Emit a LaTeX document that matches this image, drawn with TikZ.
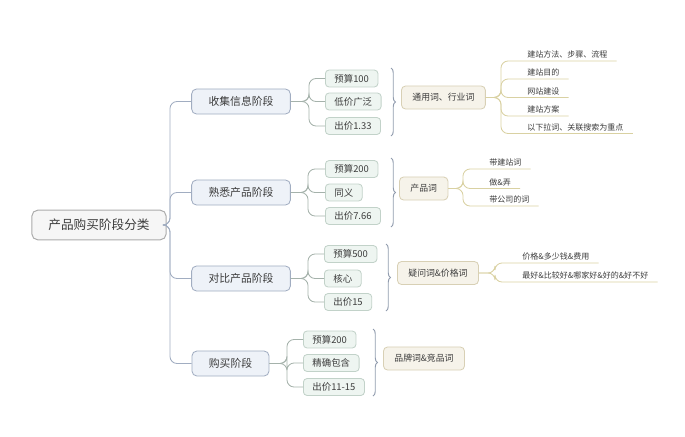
\documentclass[tikz,border=0pt]{standalone}
\usepackage{fontspec}
\setmainfont{Noto Sans CJK SC}
\usetikzlibrary{decorations.pathreplacing}

\definecolor{rootfill}{HTML}{F6F6F6}
\definecolor{rootline}{HTML}{ABABAB}
\definecolor{stagefill}{HTML}{EEF2F8}
\definecolor{stageline}{HTML}{A1ADC1}
\definecolor{itemfill}{HTML}{EEF5F1}
\definecolor{itemline}{HTML}{C2D2C9}
\definecolor{sumfill}{HTML}{F6F3EA}
\definecolor{sumline}{HTML}{D8D0B5}
\definecolor{leafline}{HTML}{D9D1A2}
\definecolor{txt}{HTML}{3C3C3C}

\begin{document}
\begin{tikzpicture}[x=0.025cm, y=-0.025cm, text=txt,
    rootbox/.style={draw=rootline, fill=rootfill, rounded corners=4pt, line width=0.7pt,
        inner xsep=11.7pt, minimum height=21pt, font=\fontsize{9}{10}\selectfont},
    stagebox/.style={draw=stageline, fill=stagefill, rounded corners=3.5pt, line width=0.6pt,
        inner xsep=12pt, minimum height=17.8pt, font=\fontsize{7.7}{9}\selectfont},
    itembox/.style={draw=itemline, fill=itemfill, rounded corners=2.5pt, line width=0.6pt, anchor=west,
        inner xsep=6.4pt, inner ysep=1pt, minimum height=12pt, font=\fontsize{6.7}{8}\selectfont},
    sumbox/.style={draw=sumline, fill=sumfill, rounded corners=3pt, line width=0.6pt, anchor=west,
        inner xsep=7.8pt, minimum height=16.4pt, font=\fontsize{6.3}{7.5}\selectfont},
    leaf/.style={anchor=south west, inner xsep=6.4pt, inner ysep=1.6pt, font=\fontsize{5.7}{7}\selectfont},
    trunkln/.style={draw=stageline, line width=0.6pt, rounded corners=5pt},
    itemln/.style={draw=itemline!85!black, line width=0.6pt, rounded corners=5pt},
    brc/.style={draw=stageline!90!black, line width=0.7pt, decorate, decoration={brace, amplitude=3.2pt}},
    leafln/.style={draw=leafline, line width=0.6pt, rounded corners=5pt}]
    \useasboundingbox (0,0) rectangle (685,436);

    % Root and stages
    \node[rootbox] (root) at (99,225) {产品购买阶段分类};
    \node[stagebox] (collect) at (241,101.5) {收集信息阶段};
    \node[stagebox] (know) at (241,192.5) {熟悉产品阶段};
    \node[stagebox] (compare) at (241,278.5) {对比产品阶段};
    \node[stagebox] (buy) at (230.5,363.5) {购买阶段};

    \coordinate (t) at (170,225);
    \draw[trunkln] (root.east) -- (t) |- (collect.west);
    \draw[trunkln] (root.east) -- (t) |- (know.west);
    \draw[trunkln] (root.east) -- (t) |- (compare.west);
    \draw[trunkln] (root.east) -- (t) |- (buy.west);

    % Stage 1
    \node[itembox] (c1) at (325,78.5) {预算100};
    \node[itembox] (c2) at (325,101.5) {低价广泛};
    \node[itembox] (c3) at (325,126) {出价1.33};
    \coordinate (jc) at (309,101.5);
    \foreach \i in {c1,c2,c3} \draw[itemln] (collect.east) -- (jc) |- (\i.west);
    \coordinate (bc1) at (391,68);
    \coordinate (bc2) at (391,136);
    \draw[brc] (bc1) -- (bc2);
    \node[sumbox] (general) at (401,97.5) {通用词、行业词};

    \node[leaf] (g1) at (518,61) {建站方法、步骤、流程};
    \node[leaf] (g2) at (518,79) {建站目的};
    \node[leaf] (g3) at (518,97.5) {网站建设};
    \node[leaf] (g4) at (518,116) {建站方案};
    \node[leaf] (g5) at (518,133.5) {以下拉词、关联搜索为重点};
    \coordinate (jg) at (501,97.5);
    \foreach \i in {g1,g2,g3,g4,g5} \draw[leafln] (general.east) -- (jg) |- (\i.south west) -- (\i.south east);

    % Stage 2
    \node[itembox] (k1) at (325,169) {预算200};
    \node[itembox] (k2) at (325,192.5) {同义};
    \node[itembox] (k3) at (325,216) {出价7.66};
    \coordinate (jk) at (308,192.5);
    \foreach \i in {k1,k2,k3} \draw[itemln] (know.east) -- (jk) |- (\i.west);
    \coordinate (bk1) at (391,158);
    \coordinate (bk2) at (391,227);
    \draw[brc] (bk1) -- (bk2);
    \node[sumbox] (product) at (399,188.5) {产品词};

    \node[leaf] (p1) at (480,169) {带建站词};
    \node[leaf] (p2) at (480,188.5) {做\&弄};
    \node[leaf] (p3) at (480,206) {带公司的词};
    \coordinate (jp) at (463,188.5);
    \foreach \i in {p1,p2,p3} \draw[leafln] (product.east) -- (jp) |- (\i.south west) -- (\i.south east);

    % Stage 3
    \node[itembox] (d1) at (324,254) {预算500};
    \node[itembox] (d2) at (324,278.5) {核心};
    \node[itembox] (d3) at (324,302) {出价15};
    \coordinate (jd) at (308,278.5);
    \foreach \i in {d1,d2,d3} \draw[itemln] (compare.east) -- (jd) |- (\i.west);
    \coordinate (bd1) at (386,244);
    \coordinate (bd2) at (386,311);
    \draw[brc] (bd1) -- (bd2);
    \node[sumbox] (query) at (397,273) {疑问词\&价格词};

    \node[leaf] (q1) at (513,263) {价格\&多少钱\&费用};
    \node[leaf] (q2) at (513,282) {最好\&比较好\&哪家好\&好的\&好不好};
    \coordinate (jq) at (495,273);
    \foreach \i in {q1,q2} \draw[leafln] (query.east) -- (jq) |- (\i.south west) -- (\i.south east);

    % Stage 4
    \node[itembox] (b1) at (303,339.5) {预算200};
    \node[itembox] (b2) at (303,363) {精确包含};
    \node[itembox] (b3) at (303,387) {出价11-15};
    \coordinate (jb) at (287,363.5);
    \foreach \i in {b1,b2,b3} \draw[itemln] (buy.east) -- (jb) |- (\i.west);
    \coordinate (bb1) at (373,329);
    \coordinate (bb2) at (373,396);
    \draw[brc] (bb1) -- (bb2);
    \node[sumbox] (brand) at (383,358.5) {品牌词\&竞品词};
\end{tikzpicture}
\end{document}
